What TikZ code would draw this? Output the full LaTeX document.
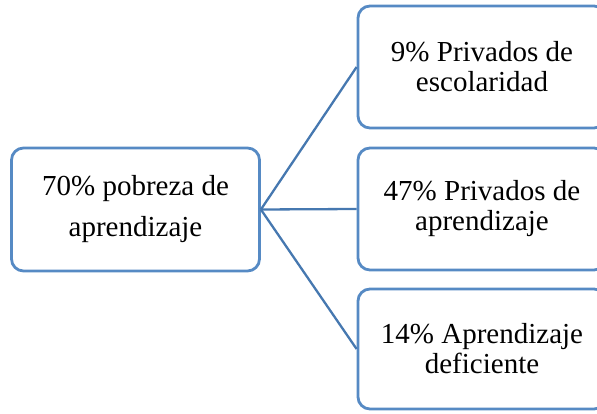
\documentclass[tikz,border=0pt]{standalone}
\usepackage{fontspec}
\setmainfont{Liberation Serif}
\definecolor{boxblue}{RGB}{86,138,196}
\definecolor{lineblue}{RGB}{70,120,176}
\begin{document}
\begin{tikzpicture}[x=1pt,y=-1pt,
  box/.style={draw=boxblue, line width=2.8pt, rounded corners=12pt, fill=white,
    minimum width=248pt, inner sep=0pt, align=center, font=\fontsize{29}{30}\selectfont},
  conn/.style={draw=lineblue, line width=2.3pt}]
\useasboundingbox (0,0) rectangle (597,414);
\clip (0,0) rectangle (597,414);
\node[box, minimum height=123pt, font=\fontsize{29}{41}\selectfont] (root) at (135.5,209.5) {70\% pobreza de\\aprendizaje};
\node[box, minimum height=122pt] (a) at (482,67) {9\% Privados de\\escolaridad};
\node[box, minimum height=122pt] (b) at (482,209) {47\% Privados de\\aprendizaje};
\node[box, minimum height=120pt] (c) at (482,349) {14\% Aprendizaje\\deficiente};
\draw[conn] (root.east) -- (a.west);
\draw[conn] (root.east) -- (b.west);
\draw[conn] (root.east) -- (c.west);
\end{tikzpicture}
\end{document}
